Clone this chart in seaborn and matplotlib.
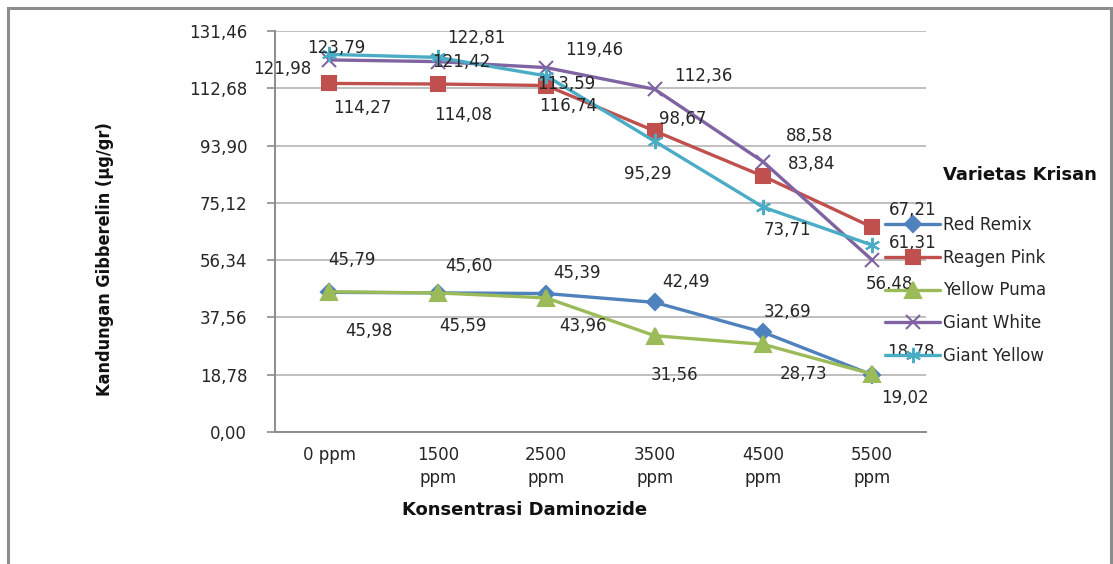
import numpy as np
import pandas as pd
import matplotlib
matplotlib.use("Agg")
import matplotlib.pyplot as plt
import seaborn as sns
from matplotlib.patches import Rectangle

# --- DATA ---
doses = ["0 ppm", "1500\nppm", "2500\nppm", "3500\nppm", "4500\nppm", "5500\nppm"]
red_remix = [45.79, 45.60, 45.39, 42.49, 32.69, 18.78]
reagen_pink = [114.27, 114.08, 113.59, 98.67, 83.84, 67.21]
yellow_puma = [45.98, 45.59, 43.96, 31.56, 28.73, 19.02]
giant_white = [121.98, 121.42, 119.46, 112.36, 88.58, 56.48]
giant_yellow = [123.79, 122.81, 116.74, 95.29, 73.71, 61.31]
varieties = ["Red Remix", "Reagen Pink", "Yellow Puma", "Giant White", "Giant Yellow"]
y_ticks = [0.00, 18.78, 37.56, 56.34, 75.12, 93.90, 112.68, 131.46]

series = {
    "Red Remix": red_remix,
    "Reagen Pink": reagen_pink,
    "Yellow Puma": yellow_puma,
    "Giant White": giant_white,
    "Giant Yellow": giant_yellow,
}

rows = []
for name in varieties:
    for i, v in enumerate(series[name]):
        rows.append({"pos": i, "value": v, "variety": name})
df = pd.DataFrame(rows)

# --- STYLE ---
colors = {"Red Remix": "#4F81BD", "Reagen Pink": "#C0504D", "Yellow Puma": "#9BBB59",
          "Giant White": "#8064A2", "Giant Yellow": "#4BACC6"}
markers = {"Red Remix": "D", "Reagen Pink": "s", "Yellow Puma": "^",
           "Giant White": "x", "Giant Yellow": (6, 2, 0)}
msizes = {"Red Remix": 8, "Reagen Pink": 10, "Yellow Puma": 11,
          "Giant White": 10, "Giant Yellow": 11}

# label offsets in pixels (dx right, dy down) from each point
label_offsets = {
    "Red Remix": [(23, -32), (31, -27), (31, -21), (31, -20), (24, -20), (39, -23)],
    "Reagen Pink": [(33, 25), (25, 31), (20, -2), (28, -12), (48, -12), (41, -17)],
    "Yellow Puma": [(40, 39), (25, 33), (37, 28), (20, 39), (40, 30), (33, 24)],
    "Giant White": [(-47, 9), (24, 0), (48, -18), (49, -13), (46, -26), (18, 24)],
    "Giant Yellow": [(7, -6), (39, -19), (22, 30), (-7, 33), (24, 23), (41, -2)],
}

sns.set_style("white")
plt.rcParams['font.family'] = ['DejaVu Sans']

fig = plt.figure(figsize=(11.13, 5.64), dpi=100)
ax = fig.add_axes([275 / 1113, 1 - 432 / 564, 651 / 1113, 401 / 564])

for name in varieties:
    sub = df[df["variety"] == name]
    sns.lineplot(data=sub, x="pos", y="value", ax=ax, color=colors[name],
                 marker=markers[name], markersize=msizes[name], linewidth=2.4,
                 markeredgecolor=colors[name], markeredgewidth=1.5,
                 label=name, legend=False)

for name in varieties:
    for i, v in enumerate(series[name]):
        dx, dy = label_offsets[name][i]
        ax.annotate(f"{v:.2f}".replace(".", ","), (i, v), xytext=(dx, -dy),
                    textcoords="offset pixels", ha="center", va="center",
                    fontsize=12, color="#262626", annotation_clip=False)

ax.set_xlim(-0.5, 5.5)
ax.set_ylim(0, 131.46)
ax.set_yticks(y_ticks)
ax.set_yticklabels([f"{t:.2f}".replace(".", ",") for t in y_ticks], fontsize=12, color="#262626")
ax.set_xticks(range(len(doses)))
ax.set_xticklabels(doses, fontsize=12, color="#262626", linespacing=1.35)
ax.set_xticks(np.arange(-0.5, 6, 1), minor=True)
ax.tick_params(axis="x", which="major", length=0, pad=10)
ax.tick_params(axis="x", which="minor", length=5, width=1.2, color="#8C8C8C")
ax.tick_params(axis="y", length=6, width=1.2, color="#8C8C8C", pad=14, left=True)
ax.yaxis.grid(True, color="#BFBFBF", linewidth=1.4)
ax.xaxis.grid(False)
for s in ["top", "right"]:
    ax.spines[s].set_visible(False)
for s in ["left", "bottom"]:
    ax.spines[s].set_color("#8C8C8C")
    ax.spines[s].set_linewidth(1.4)
ax.set_xlabel("")
ax.set_ylabel("")

fig.text(525 / 1113, 1 - 510 / 564, "Konsentrasi Daminozide", ha="center", va="center",
         fontsize=13, fontweight="bold", color="#111111")
fig.text(105 / 1113, 1 - 259 / 564, "Kandungan Gibberelin (µg/gr)", ha="center", va="center",
         rotation=90, fontsize=13, fontweight="bold", fontstretch="condensed",
         color="#111111", family=["DejaVu Sans"])
fig.text(943 / 1113, 1 - 175 / 564, "Varietas Krisan", ha="left", va="center",
         fontsize=13, fontweight="bold", color="#111111")

handles, labels = ax.get_legend_handles_labels()
fig.legend(handles, labels, loc="upper left", bbox_to_anchor=(885 / 1113, 1 - 216 / 564),
           frameon=False, fontsize=12, handlelength=3.3, handletextpad=0.2,
           labelspacing=0.88, borderpad=0, borderaxespad=0, labelcolor="#262626")

fig.patches.append(Rectangle((8 / 1113, -0.05), 1103 / 1113, 1.05 - 8 / 564,
                             transform=fig.transFigure, fill=False,
                             edgecolor="#8C8C8C", linewidth=2.2))

plt.savefig("out.png", dpi=100)
